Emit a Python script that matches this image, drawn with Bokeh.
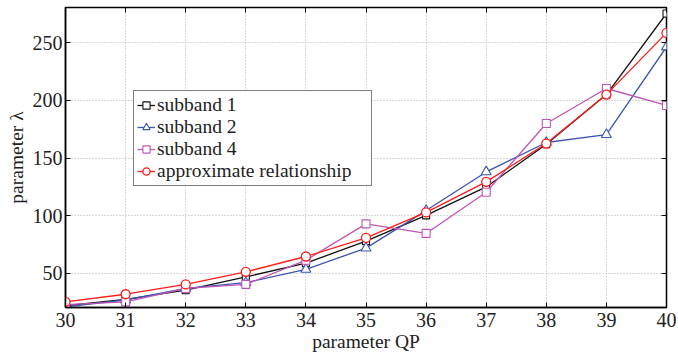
from bokeh.plotting import figure
from bokeh.models import LinearAxis, Range1d, FixedTicker, Legend, LegendItem
from bokeh.embed import file_html
from bokeh.resources import INLINE

qp = [30, 31, 32, 33, 34, 35, 36, 37, 38, 39, 40]
subband1 = [22, 27.5, 35.5, 47, 59, 78, 100.3, 125, 162, 205, 275.3]
subband2 = [21, 27, 37, 42, 53.5, 72, 104.5, 138, 163.5, 170.4, 246.3]
subband4 = [23, 25.4, 37, 40.5, 61.5, 93, 84.7, 120.4, 180, 210.3, 195.6]
approx = [25.4, 32, 40.5, 51.4, 64.7, 80.8, 102.9, 129.4, 162.6, 205, 258.5]
y_ticks = [50, 100, 150, 200, 250]

FONT = "Liberation Serif"

p = figure(width=678, height=354, output_backend="svg", toolbar_location=None,
           x_range=Range1d(30, 40), y_range=Range1d(20.5, 280.5),
           min_border_left=65, min_border_right=12, min_border_top=7, min_border_bottom=47)
p.outline_line_color = "black"
p.outline_line_width = 1.5
p.background_fill_color = "white"
p.border_fill_color = "white"

p.xaxis.ticker = FixedTicker(ticks=qp)
p.yaxis.ticker = FixedTicker(ticks=y_ticks)
for ax in [p.xaxis[0], p.yaxis[0]]:
    ax.major_tick_in = 5
    ax.major_tick_out = 0
    ax.minor_tick_line_color = None
    ax.axis_line_width = 1.5
    ax.major_label_text_font = FONT
    ax.major_label_text_font_size = "20px"
    ax.major_label_text_color = "#222222"
    ax.axis_label_text_font = FONT
    ax.axis_label_text_font_size = "19.5px"
    ax.axis_label_text_font_style = "normal"
    ax.axis_label_text_color = "#222222"
p.xaxis.axis_label = "parameter QP"
p.yaxis.axis_label = "parameter λ"
p.xaxis.major_label_standoff = 5
p.xaxis.axis_label_standoff = 1
p.yaxis.major_label_standoff = 3
p.yaxis.axis_label_standoff = 3

top = LinearAxis(ticker=FixedTicker(ticks=qp), major_label_overrides={t: "" for t in qp},
                 major_tick_in=5, major_tick_out=0, minor_tick_line_color=None,
                 axis_line_color=None, major_label_standoff=0)
right = LinearAxis(ticker=FixedTicker(ticks=y_ticks), major_label_overrides={t: "" for t in y_ticks},
                   major_tick_in=5, major_tick_out=0, minor_tick_line_color=None,
                   axis_line_color=None, major_label_standoff=0)
p.add_layout(top, "above")
p.add_layout(right, "right")

p.xgrid.grid_line_color = "#b0b0b0"
p.ygrid.grid_line_color = "#b0b0b0"
p.xgrid.grid_line_dash = "1 2"
p.ygrid.grid_line_dash = "1 2"
p.xgrid.ticker = FixedTicker(ticks=qp)
p.ygrid.ticker = FixedTicker(ticks=y_ticks)

c1, c2, c4, cr = "#111111", "#3a55b0", "#c055b5", "#ff1a1a"

l1 = p.line(qp, subband1, color=c1, line_width=1.3)
m1 = p.scatter(qp, subband1, marker="square", size=7, line_color=c1, fill_color="white", line_width=1.1)
l2 = p.line(qp, subband2, color=c2, line_width=1.3)
m2 = p.scatter(qp, subband2, marker="triangle", size=10, line_color=c2, fill_color="white", line_width=1.1)
l4 = p.line(qp, subband4, color=c4, line_width=1.3)
m4 = p.scatter(qp, subband4, marker="square", size=8, line_color=c4, fill_color="white", line_width=1.1)
lr = p.line(qp, approx, color=cr, line_width=1.3)
mr = p.scatter(qp, approx, marker="circle", size=9, line_color=cr, fill_color="white", line_width=1.3)

legend = Legend(items=[
    LegendItem(label="subband 1", renderers=[l1, m1]),
    LegendItem(label="subband 2", renderers=[l2, m2]),
    LegendItem(label="subband 4", renderers=[l4, m4]),
    LegendItem(label="approximate relationship", renderers=[lr, mr]),
], location=(68, 121))
legend.label_text_font = FONT
legend.label_text_font_size = "19.5px"
legend.label_text_color = "#222222"
legend.border_line_color = "black"
legend.border_line_width = 1.5
legend.background_fill_alpha = 1
legend.padding = 3
legend.margin = 0
legend.spacing = 0
legend.glyph_width = 18
legend.glyph_height = 22
legend.label_height = 22
legend.label_width = 211
legend.label_standoff = 2
p.add_layout(legend)

open("out.html", "w").write(file_html(p, INLINE))
